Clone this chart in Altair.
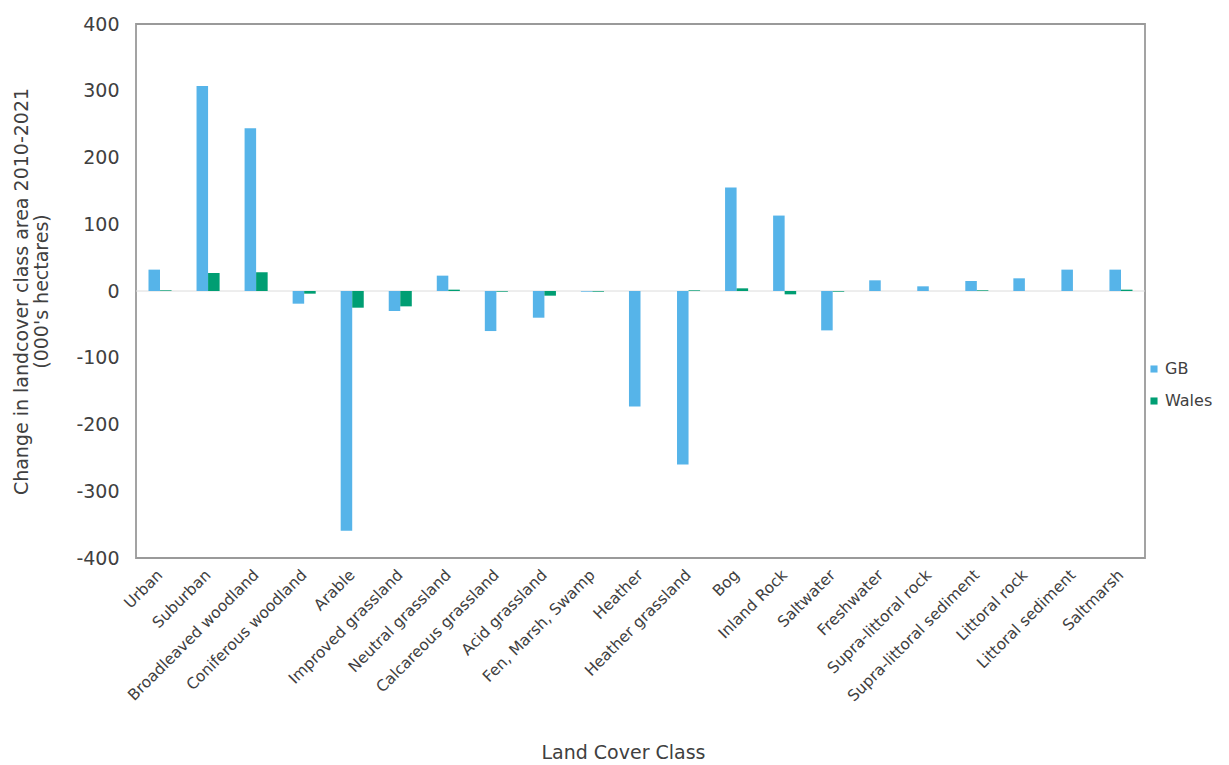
import altair as alt
import pandas as pd

categories = ["Urban", "Suburban", "Broadleaved woodland", "Coniferous woodland", "Arable",
              "Improved grassland", "Neutral grassland", "Calcareous grassland", "Acid grassland",
              "Fen, Marsh, Swamp", "Heather", "Heather grassland", "Bog", "Inland Rock",
              "Saltwater", "Freshwater", "Supra-littoral rock", "Supra-littoral sediment",
              "Littoral rock", "Littoral sediment", "Saltmarsh"]
gb = [32, 307, 244, -19, -359, -30, 23, -60, -40, -1, -173, -260, 155, 113, -59, 16, 7, 15, 19, 32, 32]
wales = [1, 27, 28, -4, -25, -23, 2, -1, -7, -1, 0, 1, 4, -5, -1, 0, 0, 1, 0, 0, 2]
series = ["GB", "Wales"]
colors = ["#56B4E9", "#009E73"]

rows = []
for c, g, w in zip(categories, gb, wales):
    rows.append({"cat": c, "series": "GB", "value": g})
    rows.append({"cat": c, "series": "Wales", "value": w})
df = pd.DataFrame(rows)

FONT = "DejaVu Sans"
TXT = "#404040"

bars = alt.Chart(df).mark_bar().encode(
    x=alt.X("cat:N", sort=categories, title="Land Cover Class",
            scale=alt.Scale(paddingInner=0.52, paddingOuter=0.26),
            axis=alt.Axis(labelAngle=-45, labelAlign="right", labelBaseline="middle",
                          labelPadding=14, ticks=False, domain=False,
                          labelFontSize=15.5, labelColor=TXT, labelFont=FONT,
                          titleFont=FONT, titleFontSize=19, titleFontWeight="normal",
                          titleColor=TXT, titleX=487, titleY=194, titleBaseline="middle")),
    xOffset=alt.XOffset("series:N", sort=series),
    y=alt.Y("value:Q", scale=alt.Scale(domain=[-400, 400], nice=False),
            title=["Change in landcover class area 2010-2021", "(000's hectares)"],
            axis=alt.Axis(values=list(range(-400, 401, 100)), grid=False, ticks=False, domain=False,
                          labelExpr="'' + datum.value",
                          labelPadding=17, labelFontSize=19, labelColor=TXT, labelFont=FONT,
                          titleFont=FONT, titleFontSize=19, titleFontWeight="normal",
                          titleLineHeight=20,
                          titleColor=TXT, titlePadding=24)),
    color=alt.Color("series:N", sort=series, scale=alt.Scale(domain=series, range=colors),
                    legend=alt.Legend(title=None, orient="none", legendX=1010, legendY=337,
                                      symbolType="square", symbolSize=50, labelFontSize=16,
                                      labelFont=FONT, labelColor=TXT, rowPadding=16,
                                      symbolStrokeWidth=0, labelOffset=3)),
)

zero = alt.Chart(pd.DataFrame({"z": [0]})).mark_rule(color="#dcdcdc", strokeWidth=1).encode(y="z:Q")

chart = alt.layer(zero, bars).properties(
    width=1009, height=534,
    autosize=alt.AutoSizeParams(type="none"),
    padding={"left": 128, "top": 16, "right": 76, "bottom": 207},
).configure_view(stroke="#9a9a9a", strokeWidth=1.8)

chart.save("out.html", embed_options={"renderer": "svg", "actions": False})
